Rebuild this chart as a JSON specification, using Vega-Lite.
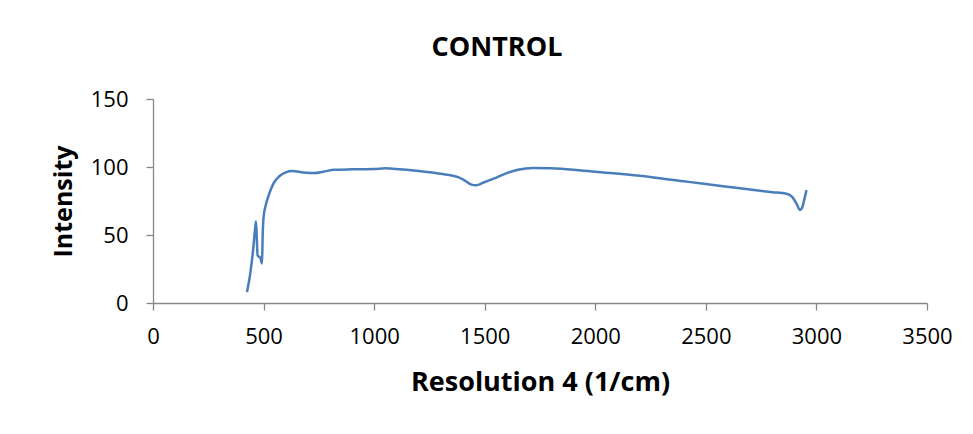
{
  "$schema": "https://vega.github.io/schema/vega-lite/v6.json",
  "width": 774,
  "height": 204,
  "autosize": "none",
  "padding": {"left": 153, "top": 99, "right": 46, "bottom": 131},
  "background": "white",
  "title": {
    "text": "CONTROL",
    "font": "Open Sans",
    "fontSize": 27,
    "fontWeight": "bold",
    "color": "black",
    "dx": -43,
    "offset": 26
  },
  "config": {
    "view": {"stroke": null},
    "axis": {
      "grid": false,
      "domainColor": "#868686",
      "tickColor": "#868686",
      "domainWidth": 1.3,
      "tickWidth": 1.3,
      "tickSize": 7,
      "labelFont": "Open Sans",
      "labelFontSize": 22,
      "labelColor": "black",
      "labelFlush": false,
      "titleFont": "Open Sans",
      "titleFontWeight": "bold",
      "titleColor": "black"
    }
  },
  "data": {
    "values": [
      {"x": 425, "y": 8},
      {"x": 440, "y": 22},
      {"x": 452, "y": 38},
      {"x": 462, "y": 55},
      {"x": 466, "y": 60},
      {"x": 470, "y": 45},
      {"x": 473, "y": 35},
      {"x": 480, "y": 34},
      {"x": 486, "y": 33},
      {"x": 493, "y": 29},
      {"x": 496, "y": 50},
      {"x": 500, "y": 63},
      {"x": 510, "y": 72},
      {"x": 525, "y": 80},
      {"x": 545, "y": 88},
      {"x": 570, "y": 93},
      {"x": 600, "y": 96},
      {"x": 630, "y": 97},
      {"x": 680, "y": 96},
      {"x": 730, "y": 95.5},
      {"x": 770, "y": 96.5},
      {"x": 820, "y": 98},
      {"x": 900, "y": 98.3},
      {"x": 1000, "y": 98.5},
      {"x": 1050, "y": 99},
      {"x": 1100, "y": 98.5},
      {"x": 1200, "y": 97},
      {"x": 1300, "y": 95},
      {"x": 1380, "y": 92.5},
      {"x": 1410, "y": 90},
      {"x": 1440, "y": 87},
      {"x": 1460, "y": 86.5},
      {"x": 1500, "y": 89},
      {"x": 1550, "y": 92},
      {"x": 1600, "y": 95.5},
      {"x": 1650, "y": 98},
      {"x": 1720, "y": 99.3},
      {"x": 1800, "y": 99},
      {"x": 1900, "y": 98},
      {"x": 2000, "y": 96.5},
      {"x": 2200, "y": 93.5},
      {"x": 2400, "y": 89.5},
      {"x": 2500, "y": 87.5},
      {"x": 2655, "y": 84.3},
      {"x": 2800, "y": 81.5},
      {"x": 2865, "y": 80.3},
      {"x": 2890, "y": 78},
      {"x": 2910, "y": 73},
      {"x": 2925, "y": 68.5},
      {"x": 2935, "y": 70},
      {"x": 2945, "y": 76},
      {"x": 2955, "y": 83}
    ]
  },
  "mark": {"type": "line", "color": "#4a7ebb", "strokeWidth": 2.5, "interpolate": "monotone"},
  "encoding": {
    "x": {
      "field": "x",
      "type": "quantitative",
      "title": "Resolution 4 (1/cm)",
      "scale": {"domain": [0, 3500], "nice": false},
      "axis": {"values": [0, 500, 1000, 1500, 2000, 2500, 3000, 3500], "format": "d", "labelPadding": 16, "titlePadding": 22, "titleFontSize": 27}
    },
    "y": {
      "field": "y",
      "type": "quantitative",
      "title": "Intensity",
      "scale": {"domain": [0, 150], "nice": false},
      "axis": {"values": [0, 50, 100, 150], "format": "d", "labelPadding": 18, "titlePadding": 14, "titleFontSize": 25}
    }
  }
}
